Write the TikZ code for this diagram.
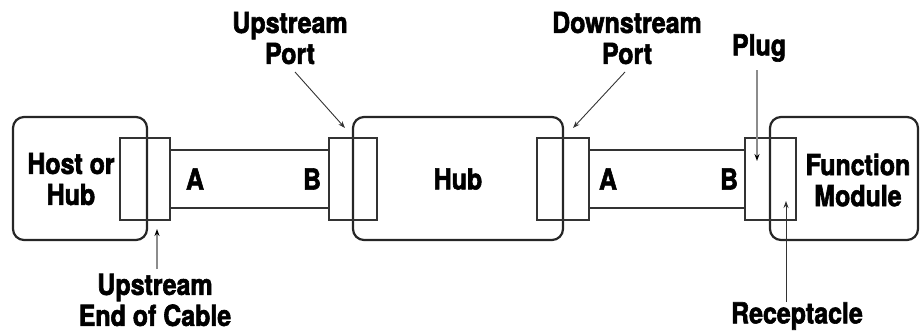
\documentclass[tikz,border=0pt]{standalone}
\usepackage{fontspec}
\setmainfont{TeX Gyre Heros}[FakeStretch=0.86,FakeBold=2]
\usetikzlibrary{arrows.meta}
\begin{document}
\begin{tikzpicture}[x=1pt,y=-1pt,
  devbox/.style={draw=black!85,line width=2.2pt,rounded corners=11pt,inner sep=0pt},
  connbox/.style={draw=black!80,line width=1.5pt,inner sep=0pt},
  cable/.style={draw=black!80,line width=1.5pt},
  lbl/.style={font=\fontsize{29}{31}\selectfont\bfseries,align=center,inner sep=0pt},
  ptr/.style={draw=black!80,line width=0.9pt,-{Stealth[length=7pt,width=5pt]}},
  gptr/.style={draw=black!45,line width=1.2pt,-{Stealth[length=7pt,width=5pt,color=black]}}]
\useasboundingbox (0,0) rectangle (921,332);
% devices
\node[devbox,minimum width=134pt,minimum height=123pt] (host) at (80,178.5) {};
\node[devbox,minimum width=210pt,minimum height=123pt] (hub) at (458,178.5) {};
\node[devbox,minimum width=148pt,minimum height=123pt] (func) at (844,178.5) {};
% connectors
\node[connbox,minimum width=50pt,minimum height=82pt] (c1) at (145,179) {};
\node[connbox,minimum width=48pt,minimum height=82pt] (c2) at (353,179) {};
\node[connbox,minimum width=52pt,minimum height=82pt] (c3) at (563,179) {};
\node[connbox,minimum width=51pt,minimum height=82pt] (c4) at (770.5,179) {};
% cables
\coordinate (k1a) at (170,150); \coordinate (k1b) at (329,150);
\coordinate (k1c) at (170,208); \coordinate (k1d) at (329,208);
\draw[cable] (k1a) -- (k1b) (k1c) -- (k1d);
\coordinate (k2a) at (589,150); \coordinate (k2b) at (745,150);
\coordinate (k2c) at (589,208); \coordinate (k2d) at (745,208);
\draw[cable] (k2a) -- (k2b) (k2c) -- (k2d);
% texts
\node[lbl] (thost) at (71,179) {Host or\\Hub};
\node[lbl] (thub) at (458,179) {Hub};
\node[lbl] (tfunc) at (858,180) {Function\\Module};
\node[lbl] (a1) at (195,179) {A};
\node[lbl] (b1) at (312,179) {B};
\node[lbl] (a2) at (608,179) {A};
\node[lbl] (b2) at (729,179) {B};
\node[lbl] (tup) at (290,38) {Upstream\\Port};
\node[lbl] (tdown) at (627,38) {Downstream\\Port};
\node[lbl] (tplug) at (759,48) {Plug};
\node[lbl] (tend) at (155,300) {Upstream\\End of Cable};
\node[lbl] (trec) at (797,316) {Receptacle};
% pointers
\coordinate (p1s) at (295,72); \coordinate (p1e) at (345,128);
\draw[ptr] (p1s) -- (p1e);
\coordinate (p2s) at (625,72); \coordinate (p2e) at (573,128);
\draw[ptr] (p2s) -- (p2e);
\coordinate (p3s) at (757,70); \coordinate (p3e) at (757,161);
\draw[gptr] (p3s) -- (p3e);
\coordinate (p4s) at (786,302); \coordinate (p4e) at (786,201);
\draw[ptr] (p4s) -- (p4e);
\coordinate (p5s) at (157,269); \coordinate (p5e) at (157,229);
\draw[gptr] (p5s) -- (p5e);
\end{tikzpicture}
\end{document}
